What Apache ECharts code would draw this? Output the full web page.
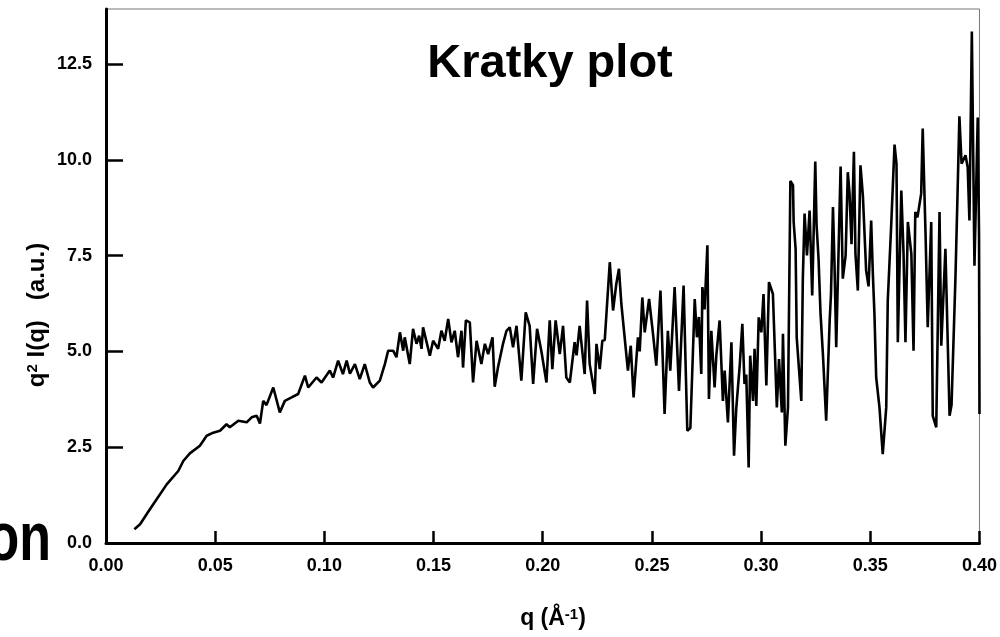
<!DOCTYPE html>
<html>
<head>
<meta charset="utf-8">
<script src="https://cdn.jsdelivr.net/npm/echarts@6/dist/echarts.min.js"></script>
<style>
html,body{margin:0;padding:0;background:#fff;}
#chart{width:1000px;height:637px;}
</style>
</head>
<body>
<div id="chart"></div>
<script>
var qValues = [
0.0130,0.0156,0.0201,0.0278,0.0331,0.0354,0.0384,0.0430,0.0461,0.0491,
0.0522,0.0552,0.0567,0.0606,0.0644,0.0667,0.0690,0.0705,0.0720,0.0735,
0.0766,0.0796,0.0819,0.0850,0.0880,0.0911,0.0926,0.0964,0.0987,0.1025,
0.1040,0.1063,0.1085,0.1102,0.1117,0.1140,0.1162,0.1185,0.1208,0.1223,
0.1254,0.1277,0.1292,0.1315,0.1330,0.1346,0.1361,0.1368,0.1391,0.1406,
0.1422,0.1434,0.1445,0.1452,0.1483,0.1498,0.1521,0.1536,0.1551,0.1567,
0.1582,0.1597,0.1612,0.1628,0.1635,0.1648,0.1666,0.1681,0.1697,0.1719,
0.1735,0.1750,0.1770,0.1780,0.1795,0.1818,0.1834,0.1849,0.1864,0.1880,
0.1902,0.1922,0.1940,0.1956,0.1974,0.1994,0.2017,0.2032,0.2044,0.2059,
0.2078,0.2093,0.2108,0.2124,0.2146,0.2155,0.2169,0.2192,0.2203,0.2215,
0.2238,0.2246,0.2261,0.2273,0.2284,0.2307,0.2322,0.2337,0.2349,0.2360,
0.2390,0.2403,0.2416,0.2436,0.2444,0.2456,0.2467,0.2487,0.2505,0.2520,
0.2539,0.2558,0.2573,0.2584,0.2604,0.2624,0.2645,0.2662,0.2676,0.2696,
0.2706,0.2715,0.2726,0.2731,0.2741,0.2754,0.2761,0.2772,0.2787,0.2795,
0.2810,0.2825,0.2833,0.2848,0.2864,0.2876,0.2886,0.2902,0.2914,0.2924,
0.2932,0.2943,0.2950,0.2963,0.2970,0.2978,0.2989,0.3001,0.3011,0.3024,
0.3036,0.3054,0.3072,0.3082,0.3095,0.3100,0.3111,0.3123,0.3134,0.3146,
0.3149,0.3158,0.3163,0.3184,0.3191,0.3199,0.3210,0.3222,0.3234,0.3248,
0.3254,0.3263,0.3272,0.3283,0.3298,0.3314,0.3320,0.3329,0.3336,0.3344,
0.3364,0.3374,0.3387,0.3397,0.3405,0.3414,0.3425,0.3432,0.3443,0.3455,
0.3466,0.3481,0.3492,0.3504,0.3512,0.3519,0.3527,0.3542,0.3557,0.3573,
0.3580,0.3596,0.3611,0.3620,0.3626,0.3642,0.3652,0.3661,0.3672,0.3688,
0.3698,0.3706,0.3716,0.3733,0.3740,0.3753,0.3763,0.3779,0.3786,0.3802,
0.3817,0.3825,0.3844,0.3863,0.3872,0.3890,0.3899,0.3908,0.3918,0.3936,
0.3946,0.3954,0.3965,0.3977,0.3992,0.3998,0.4000
];
var kratkyValues = [
0.36,0.49,0.88,1.53,1.88,2.14,2.34,2.54,2.80,2.88,
2.93,3.10,3.02,3.19,3.15,3.28,3.32,3.12,3.71,3.60,
4.06,3.41,3.71,3.80,3.89,4.37,4.06,4.32,4.19,4.50,
4.32,4.76,4.41,4.76,4.42,4.67,4.28,4.67,4.19,4.06,
4.24,4.67,5.02,5.02,4.85,5.50,5.02,5.37,4.67,5.59,
5.20,5.41,5.07,5.63,4.89,5.28,5.07,5.54,5.28,5.85,
5.24,5.54,4.85,5.54,4.58,5.81,5.76,4.19,5.28,4.67,
5.20,4.93,5.37,4.08,4.58,5.20,5.54,5.63,5.11,5.67,
4.24,6.02,5.67,4.15,5.59,5.00,4.19,5.81,4.54,5.81,
4.93,5.67,4.32,4.19,5.24,4.90,5.67,4.41,6.33,4.67,
3.89,5.20,4.54,5.28,5.30,7.33,6.07,6.77,7.16,6.24,
4.50,5.15,3.80,5.37,5.00,6.41,5.50,6.37,5.46,4.63,
6.59,3.37,5.54,4.50,6.68,3.97,6.72,2.93,3.00,6.37,
5.37,5.90,4.41,6.68,6.10,7.77,3.76,5.54,4.06,4.90,
5.81,3.71,4.50,3.15,5.24,2.28,3.50,4.63,5.72,4.15,
4.40,1.97,4.89,3.71,5.07,3.58,5.89,5.50,6.50,4.11,
6.81,6.50,3.54,4.80,3.41,5.46,2.54,3.54,9.45,9.34,
8.38,7.68,5.37,3.71,6.90,8.60,7.51,8.68,6.46,9.96,
8.30,7.42,6.00,4.93,3.19,5.81,6.50,8.77,7.30,5.11,
9.83,6.90,7.50,9.68,9.12,7.80,10.21,7.55,6.59,9.86,
9.07,7.11,6.70,8.42,6.98,5.98,4.32,3.54,2.32,3.54,
6.33,8.33,10.40,9.90,5.24,9.20,7.60,5.24,8.38,7.55,
5.02,8.64,8.50,9.12,10.82,8.07,5.63,8.38,3.32,3.02,
8.64,5.15,7.68,3.32,3.60,6.94,9.00,11.14,9.90,10.12,
9.81,8.42,13.35,7.24,11.11,8.03,3.37
];
var xTicks = [0, 0.05, 0.10, 0.15, 0.20, 0.25, 0.30, 0.35, 0.40];
var yTicks = [0, 2.5, 5.0, 7.5, 10.0, 12.5];
var titleText = 'Kratky plot';
var xName = '{n|q (Å}{s|-1}{n|)}';
var yName = '{n|q}{s|2}{n| I(q)   (a.u.)}';
var cutText = 'on';

var seriesData = qValues.map(function (q, i) { return [q, kratkyValues[i]]; });

var FONT = 'Arial, "Liberation Sans", sans-serif';
var chart = echarts.init(document.getElementById('chart'), null, {renderer: 'canvas'});
chart.setOption({
  backgroundColor: '#ffffff',
  animation: false,
  grid: {left: 106, right: 20, top: 9, bottom: 94, show: true, borderColor: '#777', borderWidth: 1, containLabel: false},
  xAxis: {
    type: 'value', min: 0, max: 0.4, interval: 0.05,
    axisLine: {show: true, onZero: false, lineStyle: {color: '#000', width: 3}},
    axisTick: {show: true, inside: true, length: 12, lineStyle: {color: '#000', width: 2.5}, customValues: xTicks},
    axisLabel: {show: true, margin: 14, color: '#000', fontFamily: FONT, fontWeight: 'bold', fontSize: 18,
      customValues: xTicks, formatter: function (v) { return v.toFixed(2); }},
    splitLine: {show: false}
  },
  yAxis: {
    type: 'value', min: 0, max: 13.94,
    axisLine: {show: true, onZero: false, lineStyle: {color: '#000', width: 3}},
    axisTick: {show: true, inside: true, length: 17, lineStyle: {color: '#000', width: 2.5}, customValues: yTicks},
    axisLabel: {show: true, margin: 14, color: '#000', fontFamily: FONT, fontWeight: 'bold', fontSize: 18,
      customValues: yTicks, formatter: function (v) { return v.toFixed(1); }},
    splitLine: {show: false}
  },
  series: [{
    type: 'line', data: seriesData, showSymbol: false, symbol: 'none',
    lineStyle: {color: '#000', width: 2.6}, clip: true
  }],
  graphic: [
    {type: 'text', x: 550, y: 64, style: {text: titleText, fill: '#000', font: 'bold 47px ' + FONT, textAlign: 'center', textVerticalAlign: 'middle'}},
    {type: 'text', x: 553, y: 619, style: {text: xName, textAlign: 'center', textVerticalAlign: 'middle',
      rich: {n: {fontFamily: FONT, fontWeight: 'bold', fontSize: 23, fill: '#000'}, s: {fontFamily: FONT, fontWeight: 'bold', fontSize: 15, fill: '#000', verticalAlign: 'top', padding: [0,0,8,0]}}}},
    {type: 'text', x: 37, y: 315, rotation: Math.PI / 2, style: {text: yName, textAlign: 'center', textVerticalAlign: 'middle',
      rich: {n: {fontFamily: FONT, fontWeight: 'bold', fontSize: 24, fill: '#000'}, s: {fontFamily: FONT, fontWeight: 'bold', fontSize: 15, fill: '#000', verticalAlign: 'top', padding: [0,0,8,0]}}}},
    {type: 'text', x: 51, y: 575, scaleY: 1.32, style: {text: cutText, fill: '#000', font: 'bold 52px ' + FONT, textAlign: 'right', textVerticalAlign: 'bottom'}}
  ]
});
</script>
</body>
</html>
